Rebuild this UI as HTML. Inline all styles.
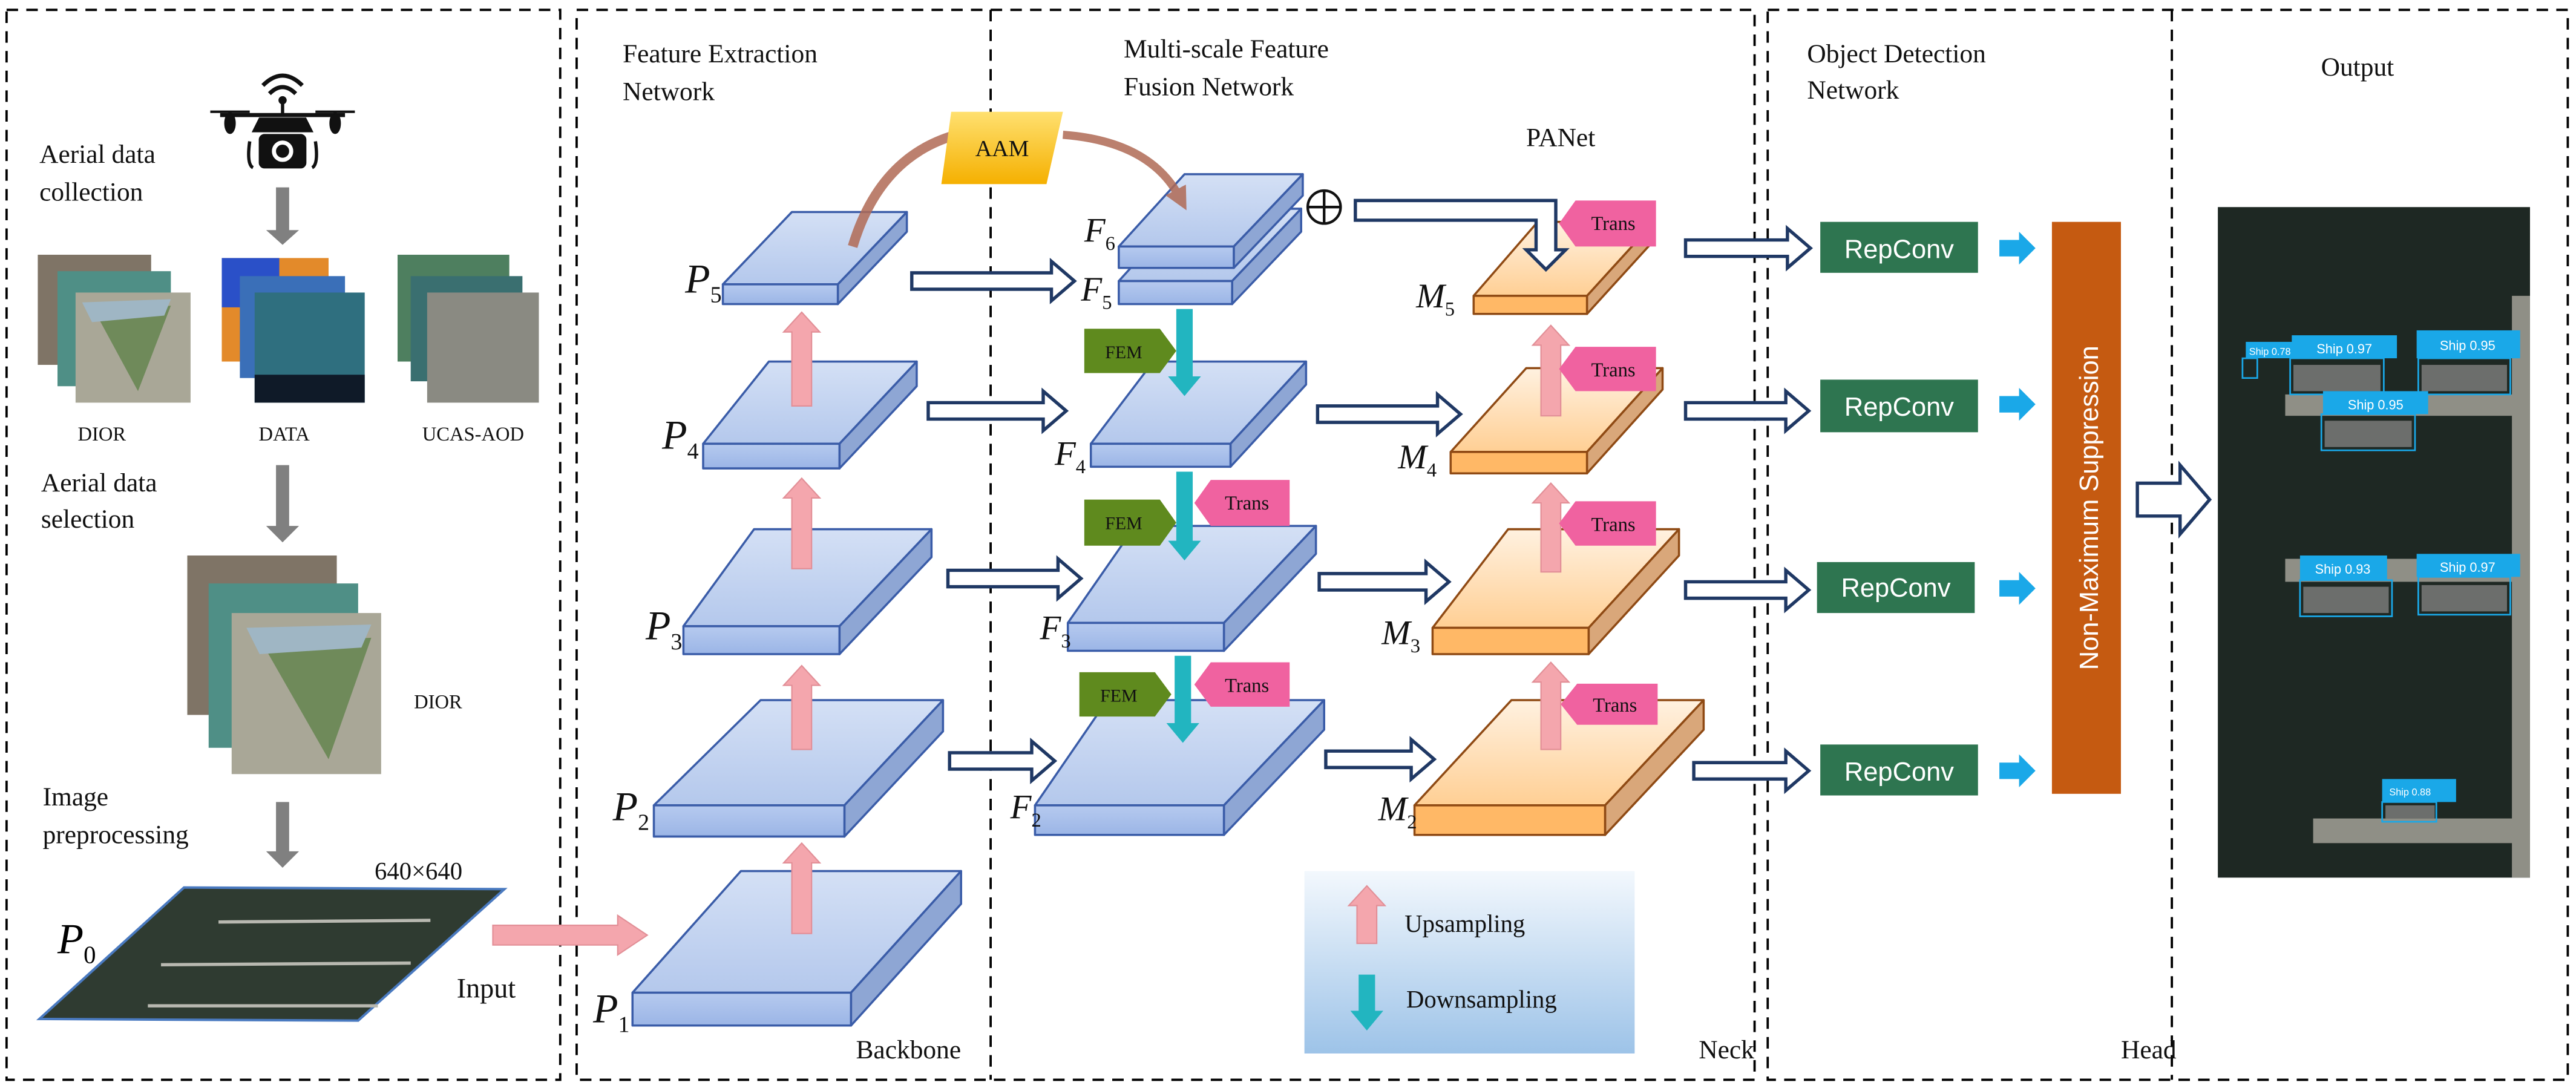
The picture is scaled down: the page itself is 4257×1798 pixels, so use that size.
<!DOCTYPE html>
<html><head><meta charset="utf-8"><style>html,body{margin:0;padding:0;background:#fff}svg{display:block}</style></head>
<body>
<svg xmlns="http://www.w3.org/2000/svg" width="4257" height="1798" viewBox="0 0 1568 662" preserveAspectRatio="none">
<defs>
<linearGradient id="bt" x1="0" y1="0" x2="0" y2="1"><stop offset="0" stop-color="#d4e0f5"/><stop offset="1" stop-color="#b4c8ec"/></linearGradient>
<linearGradient id="bf" x1="0" y1="0" x2="0" y2="1"><stop offset="0" stop-color="#b6caef"/><stop offset="1" stop-color="#9bb5e6"/></linearGradient>
<linearGradient id="ot" x1="0" y1="0" x2="0" y2="1"><stop offset="0" stop-color="#fff1e0"/><stop offset="1" stop-color="#ffcf94"/></linearGradient>
<linearGradient id="lg" x1="0" y1="0" x2="0" y2="1"><stop offset="0" stop-color="#f3f8fd"/><stop offset="1" stop-color="#9dc3e8"/></linearGradient>
<linearGradient id="aam" x1="0" y1="0" x2="0" y2="1"><stop offset="0" stop-color="#ffe070"/><stop offset="1" stop-color="#f5b000"/></linearGradient>
<marker id="bh" markerUnits="userSpaceOnUse" markerWidth="14" markerHeight="14" refX="5" refY="7" orient="auto"><path d="M0,0 L14,7 L0,14 z" fill="#b06a55"/></marker>
</defs>
<g fill="none" stroke="#000" stroke-width="1.4" stroke-dasharray="7,5">
<rect x="4" y="6" width="337" height="651"/>
<rect x="351" y="6" width="717" height="651"/>
<line x1="603" y1="6" x2="603" y2="657"/>
<rect x="1076" y="6" width="487" height="651"/>
<line x1="1322" y1="6" x2="1322" y2="657"/>
</g>
<rect x="794" y="530" width="201" height="111" fill="url(#lg)"/>
<g font-family="Liberation Serif, serif" font-size="16" fill="#111">
<text x="24" y="99">Aerial data</text><text x="24" y="122">collection</text>
<text x="25" y="299">Aerial data</text><text x="25" y="321">selection</text>
<text x="26" y="490">Image</text><text x="26" y="513">preprocessing</text>
<text x="379" y="38">Feature Extraction</text><text x="379" y="61">Network</text>
<text x="684" y="35">Multi-scale Feature</text><text x="684" y="58">Fusion Network</text>
<text x="1100" y="38">Object Detection</text><text x="1100" y="60">Network</text>
<text x="1435" y="46" text-anchor="middle">Output</text>
<text x="950" y="89" text-anchor="middle">PANet</text>
<text x="228" y="535" font-size="15">640×640</text>
<text x="278" y="607" font-size="17">Input</text>
<text x="521" y="644" font-size="16">Backbone</text>
<text x="1034" y="644" font-size="16">Neck</text>
<text x="1291" y="644" font-size="16">Head</text>
<text x="62" y="268" font-size="12" text-anchor="middle">DIOR</text>
<text x="173" y="268" font-size="12" text-anchor="middle">DATA</text>
<text x="288" y="268" font-size="12" text-anchor="middle">UCAS-AOD</text>
<text x="252" y="431" font-size="12">DIOR</text>
<text x="855" y="567" font-size="15">Upsampling</text><text x="856" y="613" font-size="15">Downsampling</text>
</g>
<!-- drone -->
<g fill="#111" stroke="#111">
<path d="M160,52 Q172,40 184,52" fill="none" stroke-width="2.5"/>
<path d="M164,57 Q172,49 180,57" fill="none" stroke-width="2.5"/>
<circle cx="172" cy="61" r="2"/>
<line x1="172" y1="61" x2="172" y2="70" stroke-width="2"/>
<line x1="134" y1="70" x2="210" y2="70" stroke-width="2.5"/>
<ellipse cx="140" cy="75" rx="3" ry="6"/><ellipse cx="204" cy="75" rx="3" ry="6"/>
<line x1="128" y1="68" x2="152" y2="68" stroke-width="1.5"/><line x1="192" y1="68" x2="216" y2="68" stroke-width="1.5"/>
<path d="M158,72 L186,72 L190,80 L154,80 z"/>
<path d="M152,86 Q150,100 154,102" fill="none" stroke-width="2"/><path d="M192,86 Q194,100 190,102" fill="none" stroke-width="2"/>
<rect x="158" y="82" width="28" height="20" rx="3"/>
<circle cx="172" cy="92" r="6" fill="#fff" stroke="#fff"/><circle cx="172" cy="92" r="3.5"/>
</g>
<g fill="#808080">
<path d="M168,114 L176,114 L176,140 L182,140 L172,149 L162,140 L168,140 z"/>
<path d="M168,283 L176,283 L176,320 L182,320 L172,330 L162,320 L168,320 z"/>
<path d="M168,488 L176,488 L176,518 L182,518 L172,528 L162,518 L168,518 z"/>
</g>
<rect x="23" y="155" width="69" height="67" fill="#7f7466"/>
<rect x="35" y="165" width="69" height="70" fill="#4f8f86"/>
<rect x="46" y="178" width="70" height="67" fill="#a9a797"/>
<path d="M58,190 L104,186 L84,238 z" fill="#6f8a5a"/><path d="M50,184 L104,182 L100,192 L56,196z" fill="#9fb6c4"/>
<rect x="135" y="157" width="65" height="63" fill="#e38a2a"/><rect x="135" y="157" width="35" height="30" fill="#2a50c8"/>
<rect x="146" y="168" width="64" height="62" fill="#3a6fb8"/>
<rect x="155" y="178" width="67" height="67" fill="#2f6f7f"/><rect x="155" y="228" width="67" height="17" fill="#0f1a28"/>
<rect x="242" y="155" width="68" height="65" fill="#4e7f5f"/>
<rect x="250" y="168" width="68" height="64" fill="#3a6f70"/>
<rect x="260" y="178" width="68" height="67" fill="#8a8a82"/>
<rect x="114" y="338" width="91" height="97" fill="#7f7466"/>
<rect x="127" y="355" width="91" height="100" fill="#4f8f86"/>
<rect x="141" y="373" width="91" height="98" fill="#a9a797"/>
<path d="M160,392 L226,388 L200,462 z" fill="#6f8a5a"/><path d="M150,382 L226,380 L220,394 L158,398z" fill="#9fb6c4"/>
<polygon points="24,620 112,540 307,541 218,621" fill="#2f3b31" stroke="#4a7ac0" stroke-width="1.5"/>
<g stroke="#b8b8b0" stroke-width="2"><line x1="133" y1="561" x2="262" y2="560"/><line x1="98" y1="587" x2="250" y2="586"/><line x1="90" y1="612" x2="230" y2="612"/></g>
<text x="35" y="580" font-family="Liberation Serif, serif" font-style="italic" font-size="26">P<tspan font-size="15" font-style="normal" dy="6">0</tspan></text>
<polygon points="300,563 376,563 376,557 394,569 376,581 376,575 300,575" fill="#f4a6ad" stroke="#e28f97" stroke-width="0.8"/>
<g stroke="#3a5ca8" stroke-width="1.3" stroke-linejoin="round">
<g><polygon points="385,604 451,530 585,530 518,604" fill="url(#bt)"/><polygon points="518,604 585,530 585,550 518,624" fill="#8ea6d4"/><rect x="385" y="604" width="133" height="20" fill="url(#bf)"/></g>
<g><polygon points="398,490 463,426 574,426 514,490" fill="url(#bt)"/><polygon points="514,490 574,426 574,445 514,509" fill="#8ea6d4"/><rect x="398" y="490" width="116" height="19" fill="url(#bf)"/></g>
<g><polygon points="416,381 459,322 567,322 511,381" fill="url(#bt)"/><polygon points="511,381 567,322 567,339 511,398" fill="#8ea6d4"/><rect x="416" y="381" width="95" height="17" fill="url(#bf)"/></g>
<g><polygon points="428,270 468,220 558,220 511,270" fill="url(#bt)"/><polygon points="511,270 558,220 558,235 511,285" fill="#8ea6d4"/><rect x="428" y="270" width="83" height="15" fill="url(#bf)"/></g>
<g><polygon points="440,173 482,129 552,129 510,173" fill="url(#bt)"/><polygon points="510,173 552,129 552,141 510,185" fill="#8ea6d4"/><rect x="440" y="173" width="70" height="12" fill="url(#bf)"/></g>
<g><polygon points="681,171 721,127 792,127 750,171" fill="url(#bt)"/><polygon points="750,171 792,127 792,141 750,185" fill="#8ea6d4"/><rect x="681" y="171" width="69" height="14" fill="url(#bf)"/></g>
<g><polygon points="681,150 721,106 793,106 751,150" fill="url(#bt)"/><polygon points="751,150 793,106 793,119 751,163" fill="#8ea6d4"/><rect x="681" y="150" width="70" height="13" fill="url(#bf)"/></g>
<g><polygon points="664,270 702,220 795,220 749,270" fill="url(#bt)"/><polygon points="749,270 795,220 795,234 749,284" fill="#8ea6d4"/><rect x="664" y="270" width="85" height="14" fill="url(#bf)"/></g>
<g><polygon points="650,379 691,320 801,320 745,379" fill="url(#bt)"/><polygon points="745,379 801,320 801,337 745,396" fill="#8ea6d4"/><rect x="650" y="379" width="95" height="17" fill="url(#bf)"/></g>
<g><polygon points="630,490 674,426 806,426 745,490" fill="url(#bt)"/><polygon points="745,490 806,426 806,444 745,508" fill="#8ea6d4"/><rect x="630" y="490" width="115" height="18" fill="url(#bf)"/></g>
</g>
<g stroke="#8f4a14" stroke-width="1.3" stroke-linejoin="round">
<g><polygon points="897,180 936,135 1007,135 966,180" fill="url(#ot)"/><polygon points="966,180 1007,135 1007,146 966,191" fill="#d9a77a"/><rect x="897" y="180" width="69" height="11" fill="#ffb866"/></g>
<g><polygon points="883,275 929,224 1012,224 966,275" fill="url(#ot)"/><polygon points="966,275 1012,224 1012,237 966,288" fill="#d9a77a"/><rect x="883" y="275" width="83" height="13" fill="#ffb866"/></g>
<g><polygon points="872,382 918,322 1022,322 967,382" fill="url(#ot)"/><polygon points="967,382 1022,322 1022,338 967,398" fill="#d9a77a"/><rect x="872" y="382" width="95" height="16" fill="#ffb866"/></g>
<g><polygon points="861,490 920,426 1037,426 977,490" fill="url(#ot)"/><polygon points="977,490 1037,426 1037,444 977,508" fill="#d9a77a"/><rect x="861" y="490" width="116" height="18" fill="#ffb866"/></g>
</g>
<g font-family="Liberation Serif, serif" font-style="italic" font-size="25" fill="#111">
<text x="417" y="178">P<tspan font-size="14" font-style="normal" dy="6">5</tspan></text>
<text x="403" y="273">P<tspan font-size="14" font-style="normal" dy="6">4</tspan></text>
<text x="393" y="389">P<tspan font-size="14" font-style="normal" dy="6">3</tspan></text>
<text x="373" y="499">P<tspan font-size="14" font-style="normal" dy="6">2</tspan></text>
<text x="361" y="622">P<tspan font-size="14" font-style="normal" dy="6">1</tspan></text>
</g>
<g font-family="Liberation Serif, serif" font-style="italic" font-size="21" fill="#111">
<text x="660" y="147">F<tspan font-size="12" font-style="normal" dy="5">6</tspan></text>
<text x="658" y="183">F<tspan font-size="12" font-style="normal" dy="5">5</tspan></text>
<text x="642" y="283">F<tspan font-size="12" font-style="normal" dy="5">4</tspan></text>
<text x="633" y="389">F<tspan font-size="12" font-style="normal" dy="5">3</tspan></text>
<text x="615" y="498">F<tspan font-size="12" font-style="normal" dy="5">2</tspan></text>
<text x="862" y="187">M<tspan font-size="12" font-style="normal" dy="5">5</tspan></text>
<text x="851" y="285">M<tspan font-size="12" font-style="normal" dy="5">4</tspan></text>
<text x="841" y="392">M<tspan font-size="12" font-style="normal" dy="5">3</tspan></text>
<text x="839" y="499">M<tspan font-size="12" font-style="normal" dy="5">2</tspan></text>
</g>
<path d="M519,150 Q540,80 610,78" fill="none" stroke="#b06a55" stroke-width="6" opacity="0.85"/>
<polygon points="579,68 647,68 637,112 573,112" fill="url(#aam)"/>
<text x="610" y="95" font-family="Liberation Serif, serif" font-size="14" text-anchor="middle" fill="#111">AAM</text>
<path d="M647,82 Q700,86 718,120" fill="none" stroke="#b06a55" stroke-width="5" opacity="0.85" marker-end="url(#bh)"/>
<circle cx="806" cy="126" r="10" fill="#fff" stroke="#111" stroke-width="1.6"/>
<line x1="796" y1="126" x2="816" y2="126" stroke="#111" stroke-width="1.6"/><line x1="806" y1="116" x2="806" y2="136" stroke="#111" stroke-width="1.6"/>
<g fill="#fff" stroke="#1f3864" stroke-width="2" stroke-linejoin="miter">
<polygon points="825,122 947,122 947,152 953,152 941,164 929,152 935,152 935,134 825,134"/>
<polygon points="555,166 640,166 640,159 654,171 640,183 640,176 555,176"/>
<polygon points="565,245 635,245 635,238 649,250 635,262 635,255 565,255"/>
<polygon points="577,347 644,347 644,340 658,352 644,364 644,357 577,357"/>
<polygon points="578,458 628,458 628,451 642,463 628,475 628,468 578,468"/>
<polygon points="802,247 875,247 875,240 889,252 875,264 875,257 802,257"/>
<polygon points="803,349 868,349 868,342 882,354 868,366 868,359 803,359"/>
<polygon points="807,457 859,457 859,450 873,462 859,474 859,467 807,467"/>
<polygon points="1026,146 1088,146 1088,139 1102,151 1088,163 1088,156 1026,156"/>
<polygon points="1026,245 1087,245 1087,238 1101,250 1087,262 1087,255 1026,255"/>
<polygon points="1026,354 1087,354 1087,347 1101,359 1087,371 1087,364 1026,364"/>
<polygon points="1031,464 1087,464 1087,457 1101,469 1087,481 1087,474 1031,474"/>
<polygon points="1301,294 1327,294 1327,283 1345,304 1327,325 1327,314 1301,314"/>
</g>
<g fill="#f4a6ad" stroke="#e28f97" stroke-width="0.8">
<polygon points="482,568 482,525 477,525 488,513 499,525 494,525 494,568"/>
<polygon points="482,456 482,417 477,417 488,405 499,417 494,417 494,456"/>
<polygon points="482,346 482,303 477,303 488,291 499,303 494,303 494,346"/>
<polygon points="482,247 482,202 477,202 488,190 499,202 494,202 494,247"/>
<polygon points="938,253 938,210 933,210 944,198 955,210 950,210 950,253"/>
<polygon points="938,348 938,306 933,306 944,294 955,306 950,306 950,348"/>
<polygon points="938,456 938,415 933,415 944,403 955,415 950,415 950,456"/>
<polygon points="826,574 826,551 821,551 832,539 843,551 838,551 838,574"/>
</g>
<g fill="#5f8a1e">
<polygon points="660,200 706,200 716,213.5 706,227 660,227"/>
<polygon points="660,304 706,304 716,318 706,332 660,332"/>
<polygon points="657,409 703,409 713,422.5 703,436 657,436"/>
</g>
<g font-family="Liberation Serif, serif" font-size="11" fill="#111" text-anchor="middle">
<text x="684" y="218">FEM</text><text x="684" y="322">FEM</text><text x="681" y="427">FEM</text>
</g>
<g fill="#22b5c0">
<polygon points="716,188 726,188 726,229 731,229 721,241 711,229 716,229"/>
<polygon points="716,287 726,287 726,329 731,329 721,341 711,329 716,329"/>
<polygon points="715,399 725,399 725,440 730,440 720,452 710,440 715,440"/>
<polygon points="827,593 837,593 837,615 842,615 832,627 822,615 827,615"/>
</g>
<g fill="#f062a0">
<polygon points="949,136 959,122 1008,122 1008,150 959,150"/>
<polygon points="949,224.5 959,211 1008,211 1008,238 959,238"/>
<polygon points="949,318.5 959,305 1008,305 1008,332 959,332"/>
<polygon points="950,428.5 960,416 1009,416 1009,441 960,441"/>
<polygon points="727,306 737,292 785,292 785,320 737,320"/>
<polygon points="727,416.5 737,403 785,403 785,430 737,430"/>
</g>
<g font-family="Liberation Serif, serif" font-size="12" fill="#111" text-anchor="middle">
<text x="982" y="140">Trans</text><text x="982" y="229">Trans</text><text x="982" y="323">Trans</text><text x="983" y="433">Trans</text>
<text x="759" y="310">Trans</text><text x="759" y="421">Trans</text>
</g>
<g fill="#2e7550">
<rect x="1108" y="135" width="96" height="31"/><rect x="1108" y="231" width="96" height="32"/>
<rect x="1106" y="342" width="96" height="31"/><rect x="1108" y="453" width="96" height="31"/>
</g>
<g font-family="Liberation Sans, sans-serif" font-size="16" fill="#fff" text-anchor="middle">
<text x="1156" y="157">RepConv</text><text x="1156" y="253">RepConv</text><text x="1154" y="363">RepConv</text><text x="1156" y="475">RepConv</text>
</g>
<g fill="#1aa8e8">
<polygon points="1217,146 1229,146 1229,141 1239,151 1229,161 1229,156 1217,156"/>
<polygon points="1217,241 1229,241 1229,236 1239,246 1229,256 1229,251 1217,251"/>
<polygon points="1217,353 1229,353 1229,348 1239,358 1229,368 1229,363 1217,363"/>
<polygon points="1217,464 1229,464 1229,459 1239,469 1229,479 1229,474 1217,474"/>
</g>
<rect x="1249" y="135" width="42" height="348" fill="#c55a11"/>
<text transform="translate(1277,309) rotate(-90)" font-family="Liberation Sans, sans-serif" font-size="16" fill="#fff" text-anchor="middle">Non-Maximum  Suppression</text>
<rect x="1350" y="126" width="190" height="408" fill="#1e2823"/>
<g fill="#8f8f86">
<rect x="1391" y="240" width="140" height="13"/><rect x="1391" y="340" width="140" height="14"/>
<rect x="1408" y="498" width="124" height="15"/><rect x="1529" y="180" width="11" height="354"/>
</g>
<g fill="#6c6e6c">
<rect x="1396" y="222" width="53" height="16"/><rect x="1474" y="222" width="52" height="16"/>
<rect x="1415" y="256" width="53" height="16"/><rect x="1402" y="357" width="52" height="16"/>
<rect x="1474" y="356" width="52" height="16"/><rect x="1452" y="490" width="30" height="8"/>
</g>
<g fill="none" stroke="#1aa8e8" stroke-width="1">
<rect x="1365" y="218" width="9" height="12"/><rect x="1394" y="218" width="57" height="22"/>
<rect x="1472" y="218" width="56" height="22"/><rect x="1413" y="252" width="57" height="22"/>
<rect x="1400" y="353" width="56" height="22"/><rect x="1472" y="351" width="56" height="23"/>
<rect x="1450" y="488" width="33" height="12"/>
</g>
<g fill="#1aa8e8">
<rect x="1367" y="208" width="33" height="10"/><rect x="1395" y="204" width="64" height="14"/>
<rect x="1471" y="201" width="63" height="17"/><rect x="1414" y="238" width="64" height="14"/>
<rect x="1400" y="338" width="53" height="15"/><rect x="1471" y="337" width="63" height="14"/>
<rect x="1450" y="474" width="45" height="14"/>
</g>
<g font-family="Liberation Sans, sans-serif" fill="#fff">
<text x="1369" y="216" font-size="6">Ship 0.78</text>
<text x="1427" y="215" font-size="8" text-anchor="middle">Ship 0.97</text>
<text x="1502" y="213" font-size="8" text-anchor="middle">Ship 0.95</text>
<text x="1446" y="249" font-size="8" text-anchor="middle">Ship 0.95</text>
<text x="1426" y="349" font-size="8" text-anchor="middle">Ship 0.93</text>
<text x="1502" y="348" font-size="8" text-anchor="middle">Ship 0.97</text>
<text x="1467" y="484" font-size="6" text-anchor="middle">Ship 0.88</text>
</g>
</svg>
</body></html>
